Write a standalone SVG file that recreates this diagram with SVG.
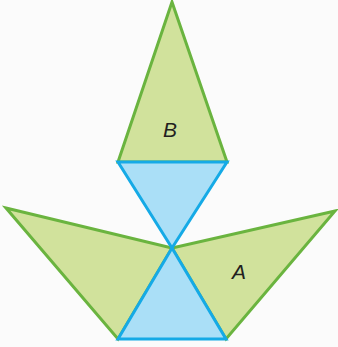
<svg xmlns="http://www.w3.org/2000/svg" width="338" height="347" viewBox="0 0 338 347">
<style>
.g{fill:#d1e29c;stroke:#6ab43f;stroke-width:3;stroke-linejoin:miter}
.b{fill:#aadff7;stroke:#15aae6;stroke-width:3;stroke-linejoin:miter}
.t{font-family:"Liberation Sans",Arial,sans-serif;font-style:italic;font-size:21px;fill:#231f20}
</style>
<rect width="338" height="347" fill="#fbfbfb"/>
<g id="triangle-B">
<polygon class="g" points="172,2 118,162 227,162"/>
<text class="t" x="170" y="137" text-anchor="middle">B</text>
</g>
<g id="triangle-left">
<polygon class="g" points="6,208 172,248 118,339"/>
</g>
<g id="triangle-A">
<polygon class="g" points="335,211 172,248 226,339"/>
<text class="t" x="239" y="279" text-anchor="middle">A</text>
</g>
<g id="triangle-top-blue">
<polygon class="b" points="118,162 227,162 172,248"/>
</g>
<g id="triangle-bottom-blue">
<polygon class="b" points="172,248 118,339 226,339"/>
</g>
</svg>
